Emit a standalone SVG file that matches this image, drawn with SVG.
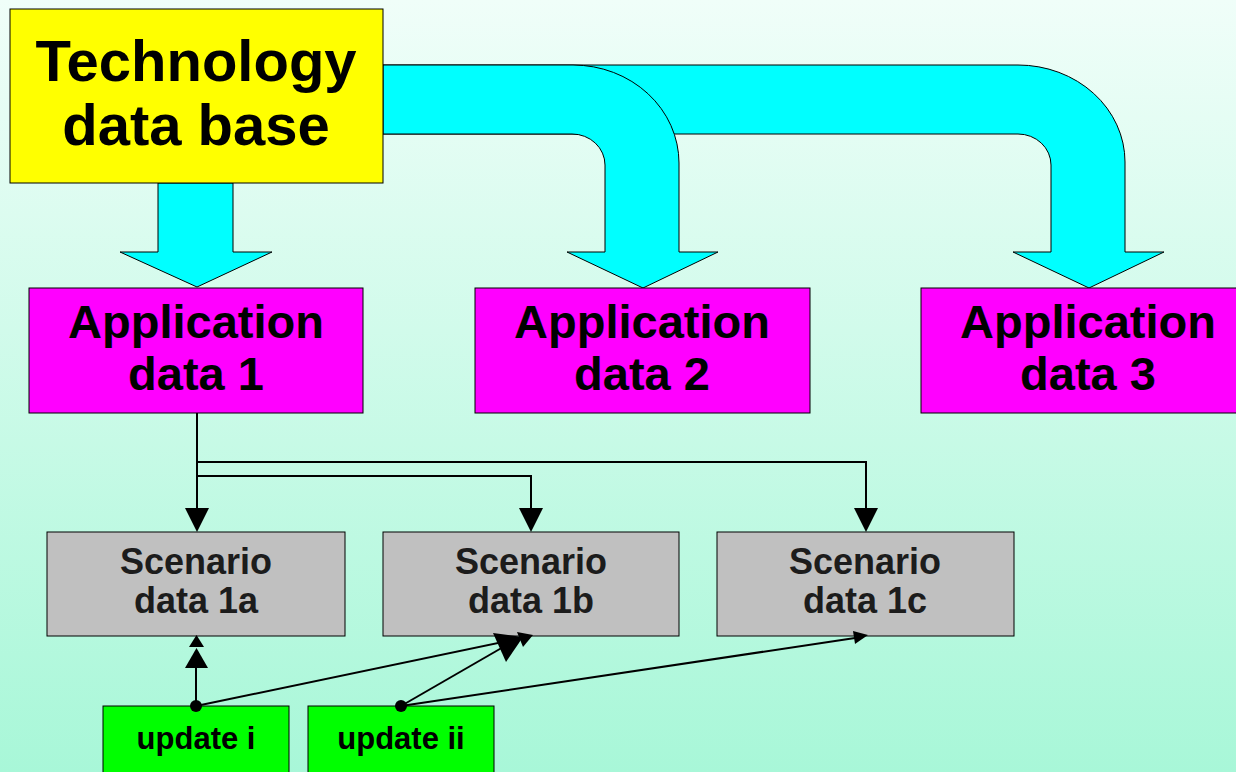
<svg xmlns="http://www.w3.org/2000/svg" width="1236" height="772" viewBox="0 0 1236 772">
<defs>
<linearGradient id="bg" x1="0" y1="0" x2="0" y2="1">
<stop offset="0" stop-color="#f0fef9"/>
<stop offset="1" stop-color="#a8f7d8"/>
</linearGradient>
<style>
.t{font-family:"Liberation Sans",Arial,sans-serif;font-weight:bold;text-anchor:middle;fill:#000}
.big{font-size:58px}
.app{font-size:47px}
.sc{font-size:36px;fill:#1c1c1c}
.up{font-size:31px}
.box{stroke:#000;stroke-width:1}
.flow{fill:#00ffff;stroke:#000;stroke-width:1}
.ln{stroke:#000;stroke-width:2;fill:none}
.hd{fill:#000}
</style>
</defs>
<rect width="1236" height="772" fill="url(#bg)"/>
<g id="flows">
<path class="flow" d="M383,65 H1018 A107,97 0 0 1 1125,162 V252 H1164 L1089,288 L1013,252 H1051 V165 A33,31 0 0 0 1018,134 H383 Z"/>
<path class="flow" d="M383,65 H573 A106,98 0 0 1 679,163 V252 H718 L643,288 L567,252 H605 V165 A33,31 0 0 0 572,134 H383 Z"/>
<path class="flow" d="M158,183 H233 V252 H272 L197,287 L120,252 H158 Z"/>
</g>
<g id="tech">
<rect class="box" x="10" y="9" width="373" height="174" fill="#ffff00"/>
<text class="t big" x="196" y="81">Technology</text>
<text class="t big" x="196" y="145">data base</text>
</g>
<g id="app1">
<rect class="box" x="29" y="288" width="334" height="125" fill="#ff00ff"/>
<text class="t app" x="196" y="338">Application</text>
<text class="t app" x="196" y="390">data 1</text>
</g>
<g id="app2">
<rect class="box" x="475" y="288" width="335" height="125" fill="#ff00ff"/>
<text class="t app" x="642" y="338">Application</text>
<text class="t app" x="642" y="390">data 2</text>
</g>
<g id="app3">
<rect class="box" x="921" y="288" width="340" height="125" fill="#ff00ff"/>
<text class="t app" x="1088" y="338">Application</text>
<text class="t app" x="1088" y="390">data 3</text>
</g>
<g id="sc1a">
<rect class="box" x="47" y="532" width="298" height="104" fill="#c0c0c0"/>
<text class="t sc" x="196" y="574">Scenario</text>
<text class="t sc" x="196" y="613">data 1a</text>
</g>
<g id="sc1b">
<rect class="box" x="383" y="532" width="296" height="104" fill="#c0c0c0"/>
<text class="t sc" x="531" y="574">Scenario</text>
<text class="t sc" x="531" y="613">data 1b</text>
</g>
<g id="sc1c">
<rect class="box" x="717" y="532" width="297" height="104" fill="#c0c0c0"/>
<text class="t sc" x="865" y="574">Scenario</text>
<text class="t sc" x="865" y="613">data 1c</text>
</g>
<g id="upd1">
<rect class="box" x="103" y="706" width="186" height="80" fill="#00ff00"/>
<text class="t up" x="196" y="749">update i</text>
</g>
<g id="upd2">
<rect class="box" x="308" y="706" width="186" height="80" fill="#00ff00"/>
<text class="t up" x="401" y="749">update ii</text>
</g>
<g id="connectors">
<path class="ln" d="M197,413 V510"/>
<path class="ln" d="M197,462 H866 V510"/>
<path class="ln" d="M197,476 H531 V510"/>
<polygon class="hd" points="185,508 209,508 197,532"/>
<polygon class="hd" points="519,508 543,508 531,532"/>
<polygon class="hd" points="854,508 878,508 866,532"/>
<path class="ln" d="M196,706 V666"/>
<polygon class="hd" points="185,668 208,668 196.5,648"/>
<polygon class="hd" points="189,647 204,647 196.5,635"/>
<path class="ln" d="M196,706 L522,638"/>
<polygon class="hd" points="517,632 533,635 523,647"/>
<path class="ln" d="M401,706 L505,646"/>
<polygon class="hd" points="493,633 506,662 523,637"/>
<path class="ln" d="M401,706 L855,638"/>
<polygon class="hd" points="853,631 868,635 855,644"/>
<circle cx="196" cy="706" r="6" fill="#000"/>
<circle cx="401" cy="706" r="6" fill="#000"/>
</g>
</svg>
